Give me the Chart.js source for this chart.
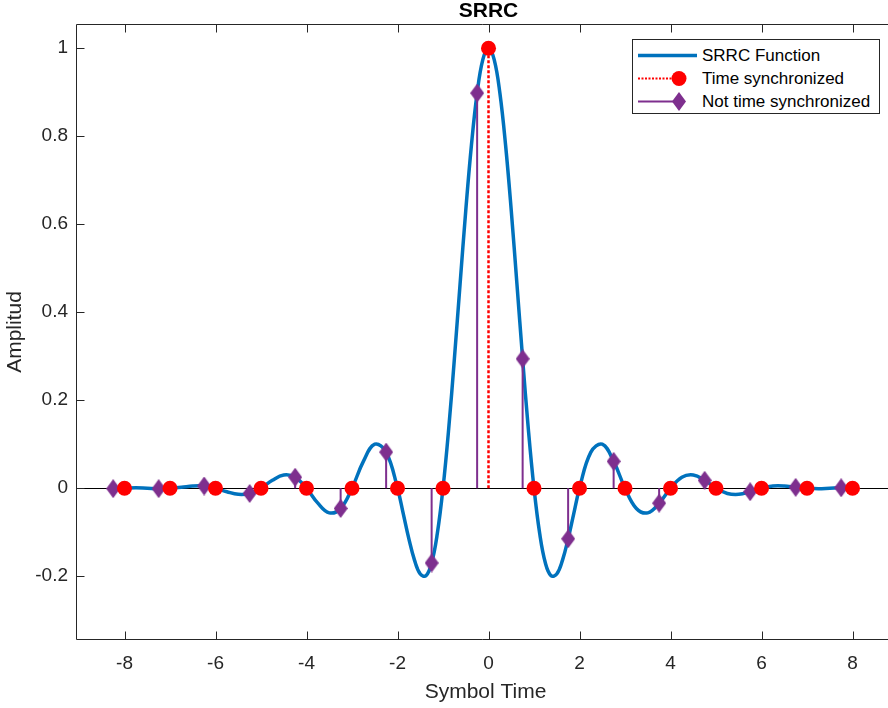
<!DOCTYPE html>
<html>
<head>
<meta charset="utf-8">
<title>SRRC</title>
<script src="https://cdn.jsdelivr.net/npm/chart.js@4.4.1/dist/chart.umd.min.js"></script>
<style>
    html, body { margin: 0; padding: 0; overflow: hidden; background: #fff; }
    #wrap { position: relative; width: 888px; height: 708px; }
    #srrc-chart { position: absolute; left: 0; top: 0; }
    #legend {
        position: absolute; left: 632px; top: 39px; width: 246px; height: 73px;
        border: 1px solid #262626; background: #fff;
        font-family: 'Liberation Sans', Arial, sans-serif; font-size: 17px; color: #000;
    }
    #legend .row { position: absolute; left: 0; height: 23px; line-height: 23px; white-space: nowrap; }
    #legend svg { position: absolute; left: 5px; top: 0; }
    #legend span { position: absolute; left: 69px; top: 0; }
</style>
</head>
<body>
<div id="wrap">
    <canvas id="srrc-chart" width="888" height="708"></canvas>
    <div id="legend"></div>
</div>
<script>
const curveTimes = [
    -8, -7.75, -7.5, -7.25, -7, -6.75, -6.5, -6.25, -6, -5.75, -5.5, -5.25, -5,
    -4.75, -4.5, -4.25, -4, -3.75, -3.5, -3.25, -3, -2.75, -2.5, -2.25,
    -2, -1.875, -1.75, -1.625, -1.5, -1.375, -1.25, -1.125, -1, -0.875, -0.75, -0.625,
    -0.5, -0.375, -0.25, -0.125, 0, 0.125, 0.25, 0.375, 0.5, 0.625, 0.75, 0.875,
    1, 1.125, 1.25, 1.375, 1.5, 1.625, 1.75, 1.875, 2,
    2.25, 2.5, 2.75, 3, 3.25, 3.5, 3.75, 4, 4.25, 4.5, 4.75,
    5, 5.25, 5.5, 5.75, 6, 6.25, 6.5, 6.75, 7, 7.25, 7.5, 7.75, 8
];
const curveValues = [
    0, 0.001, 0, -0.001, 0, 0.002, 0.005, 0.005, 0, -0.008, -0.014, -0.012, 0,
    0.018, 0.030, 0.025, 0, -0.034, -0.056, -0.046, 0, 0.061, 0.100, 0.082,
    0, -0.057, -0.115, -0.164, -0.195, -0.199, -0.170, -0.103, 0, 0.135, 0.294, 0.464,
    0.631, 0.780, 0.898, 0.974, 1, 0.974, 0.898, 0.780, 0.631, 0.464, 0.294, 0.135,
    0, -0.103, -0.170, -0.199, -0.195, -0.164, -0.115, -0.057, 0,
    0.082, 0.100, 0.061, 0, -0.046, -0.056, -0.034, 0, 0.025, 0.030, 0.018,
    0, -0.012, -0.014, -0.008, 0, 0.005, 0.005, 0.002, 0, -0.001, 0, 0.001, 0
];

// samples taken on the symbol instants
const syncTimes = [-8, -7, -6, -5, -4, -3, -2, -1, 0, 1, 2, 3, 4, 5, 6, 7, 8];
const syncValues = [0, 0, 0, 0, 0, 0, 0, 0, 1, 0, 0, 0, 0, 0, 0, 0, 0];

// samples taken a quarter symbol early
const offsetTimes = [-8.25, -7.25, -6.25, -5.25, -4.25, -3.25, -2.25, -1.25, -0.25,
    0.75, 1.75, 2.75, 3.75, 4.75, 5.75, 6.75, 7.75];
const offsetValues = [-0.001, -0.001, 0.005, -0.012, 0.025, -0.046, 0.082, -0.170, 0.898,
    0.294, -0.115, 0.061, -0.034, 0.018, -0.008, 0.002, 0.001];

const xTickValues = [-8, -6, -4, -2, 0, 2, 4, 6, 8];
const xTickLabels = ['-8', '-6', '-4', '-2', '0', '2', '4', '6', '8'];
const yTickValues = [-0.2, 0, 0.2, 0.4, 0.6, 0.8, 1];
const yTickLabels = ['-0.2', '0', '0.2', '0.4', '0.6', '0.8', '1'];

const legendLabels = ['SRRC Function', 'Time synchronized', 'Not time synchronized'];

const BLUE = '#0072BD';
const RED = '#FF0000';
const PURPLE = '#7E2F8E';
const AXIS = '#262626';
const FONT = "'Liberation Sans', Arial, sans-serif";

// diamond marker like matlab's 'd'
function makeDiamond(w, h, color) {
    const c = document.createElement('canvas');
    c.width = w;
    c.height = h;
    const g = c.getContext('2d');
    g.fillStyle = color;
    g.beginPath();
    g.moveTo(w / 2, 0);
    g.lineTo(w, h / 2);
    g.lineTo(w / 2, h);
    g.lineTo(0, h / 2);
    g.closePath();
    g.fill();
    return c;
}
const diamond = makeDiamond(14, 19, PURPLE);

// stems: baseline -> value, broken with nulls
function stemData(xs, ys) {
    const out = [];
    xs.forEach((x, i) => {
        out.push({ x: x, y: 0 }, { x: x, y: ys[i] }, { x: x, y: null });
    });
    return out;
}
const points = (xs, ys) => xs.map((x, i) => ({ x: x, y: ys[i] }));

// axes box (right side runs past the picture), inward ticks, title + x label
// centred on the full axes (x = 0)
const axesBox = {
    id: 'axesBox',
    afterDraw(chart) {
        const { ctx, chartArea: a, scales: { x, y } } = chart;
        const L = Math.round(a.left) + 0.5, R = a.right;
        const T = Math.round(a.top) + 0.5, B = Math.round(a.bottom) - 0.5;
        ctx.save();
        ctx.strokeStyle = AXIS;
        ctx.lineWidth = 1;
        ctx.beginPath();
        ctx.moveTo(R, T); ctx.lineTo(L, T); ctx.lineTo(L, B); ctx.lineTo(R, B);
        xTickValues.forEach(v => {
            const px = Math.round(x.getPixelForValue(v)) + 0.5;
            ctx.moveTo(px, B); ctx.lineTo(px, B - 8);
            ctx.moveTo(px, T); ctx.lineTo(px, T + 8);
        });
        yTickValues.forEach(v => {
            const py = Math.round(y.getPixelForValue(v)) + 0.5;
            ctx.moveTo(L, py); ctx.lineTo(L + 8, py);
        });
        ctx.stroke();

        const cx = x.getPixelForValue(0);
        ctx.textAlign = 'center';
        ctx.textBaseline = 'alphabetic';
        ctx.fillStyle = '#000';
        ctx.font = `bold 21px ${FONT}`;
        ctx.fillText('SRRC', cx, 17);
        ctx.fillStyle = AXIS;
        ctx.font = `21px ${FONT}`;
        ctx.fillText('Symbol Time', cx - 3, 698);
        ctx.restore();
    }
};

const ctx = document.getElementById('srrc-chart').getContext('2d');
new Chart(ctx, {
    type: 'line',
    data: {
        datasets: [{
            label: 'SRRC Function',
            data: points(curveTimes, curveValues),
            borderColor: BLUE,
            borderWidth: 3.5,
            pointRadius: 0,
            tension: 0.4,
            order: 5
        }, {
            label: 'Not time synchronized stems',
            data: stemData(offsetTimes, offsetValues),
            borderColor: PURPLE,
            borderWidth: 2,
            pointRadius: 0,
            spanGaps: false,
            order: 4
        }, {
            label: 'Not time synchronized',
            data: points(offsetTimes, offsetValues),
            showLine: false,
            pointStyle: diamond,
            pointRadius: 8,
            order: 3
        }, {
            label: 'Time synchronized stems',
            data: stemData(syncTimes, syncValues),
            borderColor: RED,
            borderWidth: 2.5,
            borderDash: [3, 2],
            pointRadius: 0,
            spanGaps: false,
            order: 2
        }, {
            label: 'Time synchronized',
            data: points(syncTimes, syncValues),
            showLine: false,
            pointStyle: 'circle',
            pointRadius: 7.5,
            pointBorderWidth: 0,
            pointBackgroundColor: RED,
            order: 1
        }]
    },
    options: {
        responsive: false,
        animation: false,
        devicePixelRatio: 1,
        layout: { autoPadding: false, padding: { left: 0, top: 24, bottom: 0, right: 0 } },
        plugins: {
            legend: { display: false },
            tooltip: { enabled: false },
            title: { display: false }
        },
        scales: {
            x: {
                type: 'linear',
                min: -9.066,
                max: 8.78,
                afterBuildTicks: s => { s.ticks = xTickValues.map(v => ({ value: v })); },
                afterFit: s => { s.height = 68; },
                grid: { display: false, drawTicks: false },
                border: { display: false },
                ticks: {
                    padding: 12.5,
                    color: AXIS,
                    font: { family: FONT, size: 19 },
                    callback: (v, i) => xTickLabels[i]
                }
            },
            y: {
                type: 'linear',
                min: -0.345,
                max: 1.055,
                afterBuildTicks: s => { s.ticks = yTickValues.map(v => ({ value: v })); },
                afterFit: s => { s.width = 76; },
                grid: {
                    drawTicks: false,
                    lineWidth: 1,
                    color: c => (c.tick && c.tick.value === 0) ? '#000' : 'rgba(0,0,0,0)'
                },
                border: { display: false },
                ticks: {
                    padding: 8,
                    color: AXIS,
                    font: { family: FONT, size: 19 },
                    callback: (v, i) => yTickLabels[i]
                },
                title: {
                    display: true,
                    text: 'Amplitud',
                    color: AXIS,
                    font: { family: FONT, size: 21 },
                    padding: { top: 3, bottom: 0 }
                }
            }
        }
    },
    plugins: [axesBox]
});

// legend drawn as html, line + marker samples
const legendSamples = [
    `<line x1="0" y1="11.5" x2="59" y2="11.5" stroke="${BLUE}" stroke-width="3.5"/>`,
    `<line x1="0" y1="11.5" x2="41" y2="11.5" stroke="${RED}" stroke-width="2" stroke-dasharray="2 1.5"/>` +
        `<circle cx="41" cy="11.5" r="7.5" fill="${RED}"/>`,
    `<line x1="0" y1="11.5" x2="41" y2="11.5" stroke="${PURPLE}" stroke-width="2"/>` +
        `<polygon points="41,2 48,11.5 41,21 34,11.5" fill="${PURPLE}"/>`
];
const legendEl = document.getElementById('legend');
legendLabels.forEach((label, i) => {
    const row = document.createElement('div');
    row.className = 'row';
    row.style.top = (3.5 + i * 23) + 'px';
    row.style.width = '100%';
    row.innerHTML = `<svg width="62" height="23">${legendSamples[i]}</svg><span>${label}</span>`;
    legendEl.appendChild(row);
});
</script>
</body>
</html>
